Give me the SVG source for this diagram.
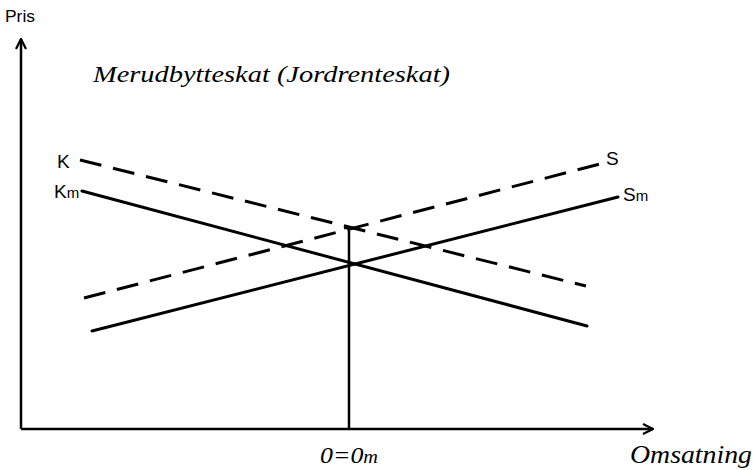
<svg xmlns="http://www.w3.org/2000/svg" width="754" height="470" viewBox="0 0 754 470">
<defs>
<style>
.ax{stroke:#000;stroke-width:2.5;fill:none}
.ln{stroke:#000;stroke-width:3;fill:none;stroke-linecap:round}
.dash{stroke-dasharray:22 12;stroke-linecap:butt}
.hand{font-family:"Liberation Sans","DejaVu Sans",sans-serif;fill:#000}
.script{font-family:"Liberation Serif","DejaVu Serif",serif;font-style:italic;fill:#000}
</style>
<marker id="arr" viewBox="0 0 12 12" refX="11" refY="6" markerWidth="12" markerHeight="12" markerUnits="userSpaceOnUse" orient="auto">
<path d="M1,1 L11,6 L1,11" fill="none" stroke="#000" stroke-width="2.2"/>
</marker>
</defs>
<rect width="754" height="470" fill="#fff"/>
<g id="axes">
<path class="ax" d="M21,429 L21,39" marker-end="url(#arr)"/>
<path class="ax" d="M21,429 L653,429" marker-end="url(#arr)"/>
</g>
<g id="connectors">
<line id="K" class="ln dash" x1="80" y1="160" x2="586" y2="286"/>
<line id="S" class="ln dash" x1="84" y1="298" x2="600" y2="164"/>
<line id="Km" class="ln" x1="82" y1="191" x2="587" y2="326"/>
<line id="Sm" class="ln" x1="92" y1="331" x2="618" y2="197"/>
<line id="Q" class="ax" x1="349" y1="228" x2="349" y2="429"/>
<line class="ax" x1="344" y1="228" x2="355" y2="228"/>
</g>
<g id="labels">
<text class="hand" x="5" y="22" font-size="16" textLength="30" lengthAdjust="spacingAndGlyphs">Pris</text>
<text class="script" x="93" y="82" font-size="24" textLength="357" lengthAdjust="spacingAndGlyphs">Merudbytteskat (Jordrenteskat)</text>
<text class="hand" x="57" y="168" font-size="19">K</text>
<text class="hand" x="54" y="198" font-size="19">K<tspan font-size="15">m</tspan></text>
<text class="hand" x="606" y="165" font-size="19">S</text>
<text class="hand" x="623" y="201" font-size="19">S<tspan font-size="15">m</tspan></text>
<text class="script" x="320" y="463" font-size="23" textLength="58" lengthAdjust="spacingAndGlyphs">0=0<tspan font-size="18">m</tspan></text>
<text class="script" x="630" y="463" font-size="26" textLength="122" lengthAdjust="spacingAndGlyphs">Omsatning</text>
</g>
</svg>
